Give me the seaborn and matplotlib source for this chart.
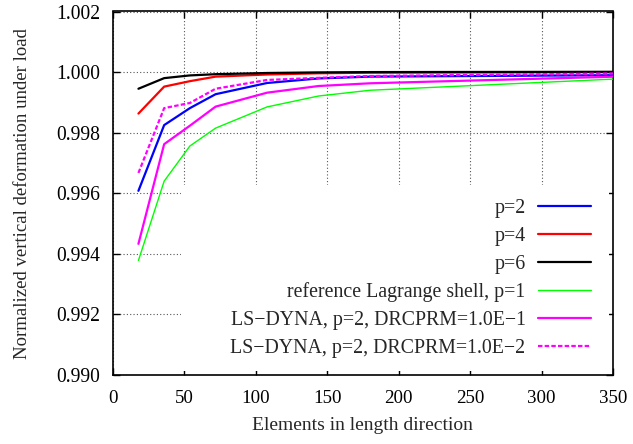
import matplotlib
matplotlib.use("Agg")
import matplotlib.pyplot as plt
import seaborn as sns
import pandas as pd
from matplotlib.patches import Rectangle

# data
elements = [18, 36, 54, 72, 108, 144, 180, 360]
p2 = [0.99608, 0.99825, 0.99881, 0.99927, 0.99964, 0.99979, 0.99985, 0.99990]
p4 = [0.99863, 0.99952, 0.99970, 0.99985, 0.99992, 0.99996, 0.99998, 1.00000]
p6 = [0.99945, 0.99980, 0.99989, 0.99993, 0.99997, 0.99999, 1.00000, 1.00001]
lagrange = [0.99378, 0.99640, 0.99756, 0.99815, 0.99885, 0.99921, 0.99940, 0.99979]
lsdyna_1 = [0.99433, 0.99762, 0.99823, 0.99886, 0.99932, 0.99954, 0.99963, 0.99986]
lsdyna_2 = [0.99667, 0.99881, 0.99898, 0.99945, 0.99974, 0.99981, 0.99987, 0.99996]

labels = ["p=2", "p=4", "p=6", "reference Lagrange shell, p=1",
          "LS\u2212DYNA, p=2, DRCPRM=1.0E\u22121",
          "LS\u2212DYNA, p=2, DRCPRM=1.0E\u22122"]
series = [p2, p4, p6, lagrange, lsdyna_1, lsdyna_2]
colors = ["#0000ff", "#ff0000", "#000000", "#00ff00", "#ff00ff", "#ff00ff"]
widths = [1.6, 1.6, 1.6, 1.0, 1.6, 1.6]
styles = ["-", "-", "-", "-", "-", (0, (2, 1))]

sns.set_theme(style="ticks")
plt.rcParams["font.family"] = ["Liberation Serif", "DejaVu Serif"]
plt.rcParams["font.size"] = 14

fig = plt.figure(figsize=(6.33, 4.44), dpi=100)
ax = fig.add_axes([112.7/633, 1 - 375/444, 500.3/633, 363.5/444])

for lab, ys, c, w, ls in zip(labels, series, colors, widths, styles):
    df = pd.DataFrame({"x": elements, "y": ys})
    sns.lineplot(data=df, x="x", y="y", ax=ax, color=c, lw=w, linestyle=ls,
                 label=lab, zorder=3)

ax.set_xlim(0, 350)
ax.set_ylim(0.990, 1.002)
ax.set_xticks(range(0, 351, 50))
ax.set_yticks([0.990, 0.992, 0.994, 0.996, 0.998, 1.000, 1.002])
ax.yaxis.set_major_formatter(matplotlib.ticker.FormatStrFormatter("%.3f"))
ax.tick_params(direction="in", length=5, width=1, top=True, right=True,
               colors="black")
ax.tick_params(axis="y", pad=9, labelsize=14.1)
ax.tick_params(axis="x", pad=10.5, labelsize=13.6)
ax.grid(True, color="#555555", linestyle=(0, (1, 2)), linewidth=0.8)
ax.set_axisbelow(True)
for s in ax.spines.values():
    s.set_linewidth(1.2)
    s.set_color("black")

# key background hides the grid
ax.add_patch(Rectangle((0.1365, 0.01), 0.855, 0.5127, transform=ax.transAxes,
                       facecolor="white", edgecolor="none", zorder=1))

ax.set_xlabel("Elements in length direction", fontsize=14, labelpad=7.5)
ax.set_ylabel("Normalized vertical deformation under load", fontsize=13.5, labelpad=18)

leg = ax.legend(loc="lower right", bbox_to_anchor=(0.9554, 0.047), markerfirst=False,
                frameon=False, fontsize=14.3, handlelength=2.63, handletextpad=0.65,
                labelspacing=0.44, borderpad=0, borderaxespad=0)
leg.set_zorder(5)

fig.savefig("out.png", dpi=100)
